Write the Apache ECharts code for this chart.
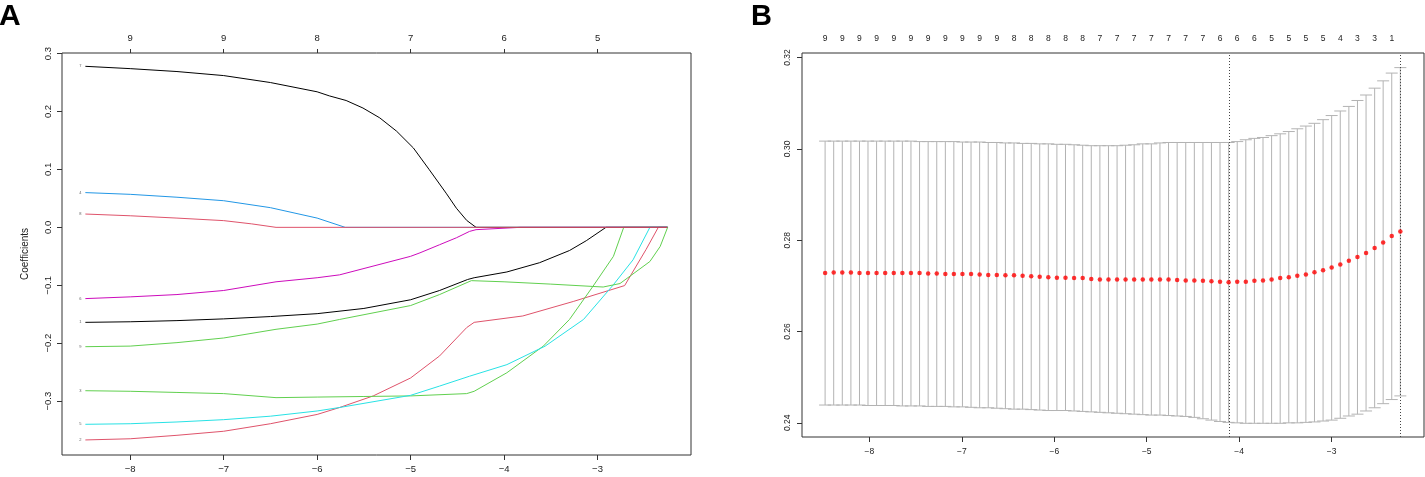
<!DOCTYPE html>
<html lang="en">
<head>
    <meta charset="UTF-8">
    <title>lasso_path_and_cv</title>
    <script src="https://cdn.jsdelivr.net/npm/echarts@6/dist/echarts.min.js"></script>
    <style>
        html, body { margin: 0; padding: 0; background: #fff; }
        #mainChart { width: 1425px; height: 477px; }
    </style>
</head>

<body>
    <div id="mainChart"></div>
    <script>
        // ---- panel A: coefficient paths, [log lambda, coefficient] ----
        const coefV1 = [[-8.48,-0.164],[-8.0,-0.163],[-7.5,-0.161],[-7.0,-0.158],[-6.5,-0.154],[-6.0,-0.149],[-5.5,-0.140],[-5.0,-0.125],[-4.69,-0.109],[-4.39,-0.090],[-4.32,-0.087],[-3.97,-0.077],[-3.62,-0.061],[-3.30,-0.040],[-3.12,-0.023],[-2.91,0],[-2.25,0]]
        const coefV2 = [[-8.48,-0.367],[-8.0,-0.365],[-7.5,-0.359],[-7.0,-0.352],[-6.5,-0.339],[-6.0,-0.323],[-5.76,-0.311],[-5.40,-0.291],[-5.0,-0.260],[-4.69,-0.222],[-4.40,-0.173],[-4.32,-0.164],[-3.80,-0.153],[-3.26,-0.128],[-2.71,-0.1005],[-2.48,-0.038],[-2.35,0],[-2.25,0]]
        const coefV3 = [[-8.48,-0.282],[-8.0,-0.283],[-7.5,-0.285],[-7.0,-0.287],[-6.44,-0.294],[-6.0,-0.293],[-5.5,-0.292],[-5.0,-0.291],[-4.40,-0.287],[-4.32,-0.283],[-3.97,-0.251],[-3.58,-0.205],[-3.30,-0.159],[-3.05,-0.102],[-2.83,-0.050],[-2.72,0],[-2.25,0]]
        const coefV4 = [[-8.48,0.060],[-8.0,0.057],[-7.5,0.052],[-7.0,0.046],[-6.5,0.034],[-6.0,0.016],[-5.70,0],[-2.25,0]]
        const coefV5 = [[-8.48,-0.340],[-8.0,-0.339],[-7.5,-0.336],[-7.0,-0.332],[-6.5,-0.326],[-6.0,-0.317],[-5.76,-0.311],[-5.0,-0.290],[-4.69,-0.274],[-4.37,-0.257],[-3.97,-0.237],[-3.56,-0.205],[-3.15,-0.159],[-2.83,-0.099],[-2.62,-0.056],[-2.44,0],[-2.25,0]]
        const coefV6 = [[-8.48,-0.123],[-8.0,-0.120],[-7.5,-0.116],[-7.0,-0.109],[-6.44,-0.094],[-6.0,-0.087],[-5.76,-0.082],[-5.0,-0.050],[-4.90,-0.044],[-4.69,-0.030],[-4.51,-0.018],[-4.37,-0.007],[-4.30,-0.004],[-3.83,0],[-2.25,0]]
        const coefV7 = [[-8.48,0.278],[-8.0,0.274],[-7.5,0.269],[-7.0,0.262],[-6.5,0.250],[-6.0,0.234],[-5.87,0.227],[-5.69,0.219],[-5.51,0.206],[-5.33,0.189],[-5.15,0.166],[-4.97,0.137],[-4.80,0.0995],[-4.62,0.059],[-4.51,0.033],[-4.40,0.012],[-4.30,0],[-2.25,0]]
        const coefV8 = [[-8.48,0.023],[-8.0,0.020],[-7.5,0.016],[-7.0,0.0116],[-6.7,0.006],[-6.44,0],[-2.25,0]]
        const coefV9 = [[-8.48,-0.206],[-8.0,-0.205],[-7.5,-0.199],[-7.0,-0.191],[-6.44,-0.176],[-6.0,-0.167],[-5.76,-0.159],[-5.0,-0.135],[-4.69,-0.116],[-4.35,-0.092],[-4.0,-0.094],[-3.5,-0.098],[-2.94,-0.103],[-2.76,-0.097],[-2.44,-0.059],[-2.33,-0.033],[-2.25,0]]

        const varNames = ['1', '2', '3', '4', '5', '6', '7', '8', '9']
        const varPaths = [coefV1, coefV2, coefV3, coefV4, coefV5, coefV6, coefV7, coefV8, coefV9]
        const varColors = ['#000000', '#DF536B', '#61D04F', '#2297E6', '#28E2E5', '#CD0BBC', '#000000', '#DF536B', '#61D04F']

        const pathTicks = [-8, -7, -6, -5, -4, -3]
        const pathDf = [9, 9, 8, 7, 6, 5]
        const coefTicks = [-0.3, -0.2, -0.1, 0, 0.1, 0.2, 0.3]

        // ---- panel B: cross-validation curve ----
        const cvLogLambda = [-8.480,-8.387,-8.294,-8.201,-8.108,-8.016,-7.923,-7.830,-7.737,-7.644,
            -7.551,-7.458,-7.365,-7.272,-7.179,-7.087,-6.994,-6.901,-6.808,-6.715,
            -6.622,-6.529,-6.436,-6.343,-6.250,-6.158,-6.065,-5.972,-5.879,-5.786,
            -5.693,-5.600,-5.507,-5.414,-5.321,-5.229,-5.136,-5.043,-4.950,-4.857,
            -4.764,-4.671,-4.578,-4.485,-4.392,-4.300,-4.207,-4.114,-4.021,-3.928,
            -3.835,-3.742,-3.649,-3.556,-3.463,-3.371,-3.278,-3.185,-3.092,-2.999,
            -2.906,-2.813,-2.720,-2.627,-2.534,-2.442,-2.349,-2.256]
        const cvMean = [0.2728,0.2729,0.2729,0.2729,0.2728,0.2728,0.2728,0.2728,0.2728,0.2728,
            0.2728,0.2728,0.2727,0.2727,0.2726,0.2726,0.2726,0.2726,0.2725,0.2724,
            0.2724,0.2723,0.2723,0.2722,0.2721,0.2720,0.2719,0.2718,0.2718,0.2717,
            0.2717,0.2715,0.2714,0.2714,0.2714,0.2714,0.2714,0.2714,0.2714,0.2714,
            0.2714,0.2713,0.2712,0.2712,0.2711,0.2710,0.2709,0.2708,0.2709,0.2709,
            0.2711,0.2712,0.2714,0.2717,0.2719,0.2722,0.2725,0.2730,0.2734,0.2740,
            0.2747,0.2755,0.2763,0.2772,0.2783,0.2795,0.2809,0.2819]
        const cvUpper = [0.3017,0.3017,0.3017,0.3017,0.3017,0.3017,0.3017,0.3017,0.3017,0.3017,
            0.3017,0.3016,0.3016,0.3016,0.3016,0.3016,0.3015,0.3015,0.3015,0.3014,
            0.3014,0.3013,0.3013,0.3012,0.3012,0.3011,0.3011,0.3010,0.3010,0.3009,
            0.3008,0.3007,0.3007,0.3007,0.3007,0.3008,0.3009,0.3011,0.3011,0.3013,
            0.3014,0.3014,0.3014,0.3014,0.3014,0.3014,0.3014,0.3014,0.3016,0.3020,
            0.3023,0.3025,0.3029,0.3033,0.3038,0.3044,0.3050,0.3056,0.3064,0.3073,
            0.3083,0.3093,0.3106,0.3118,0.3133,0.3149,0.3166,0.3178]
        const cvLower = [0.2439,0.2439,0.2439,0.2439,0.2439,0.2438,0.2438,0.2438,0.2438,0.2437,
            0.2437,0.2437,0.2436,0.2436,0.2436,0.2435,0.2435,0.2434,0.2433,0.2433,
            0.2432,0.2431,0.2430,0.2430,0.2429,0.2428,0.2427,0.2427,0.2427,0.2426,
            0.2425,0.2424,0.2423,0.2422,0.2421,0.2420,0.2419,0.2418,0.2417,0.2417,
            0.2416,0.2415,0.2414,0.2412,0.2409,0.2406,0.2403,0.2401,0.2400,0.2399,
            0.2399,0.2399,0.2399,0.2399,0.2400,0.2400,0.2401,0.2402,0.2404,0.2406,
            0.2410,0.2415,0.2419,0.2426,0.2433,0.2442,0.2451,0.2459]
        // non-zero counts shown on the top axis, every second lambda
        const nzTop = [9,9,9,9,9,9,9,9,9,9,9,8,8,8,8,8,7,7,7,7,7,7,7,6,6,6,5,5,5,5,4,3,3,1]
        const lambdaMinLog = -4.114
        const lambda1seLog = -2.256
        const cvTicksX = [-8, -7, -6, -5, -4, -3]
        const cvTicksY = [0.24, 0.26, 0.28, 0.30, 0.32]

        const FONT = 'Liberation Sans, Arial, Helvetica, sans-serif'
        const capHalf = 6

        function minus(s) {
            return String(s).replace('-', '\u2212')
        }
        function nearestIndex(arr, v) {
            let best = 0
            for (let i = 1; i < arr.length; i++) {
                if (Math.abs(arr[i] - v) < Math.abs(arr[best] - v)) best = i
            }
            return best
        }

        const topLabelX = nzTop.map((_, i) => cvLogLambda[2 * i])

        function axisOf(extra) {
            return Object.assign({
                type: 'value',
                axisLine: { show: false, onZero: false },
                splitLine: { show: false }
            }, extra)
        }
        function tickOf(values, len) {
            return { show: true, length: len, customValues: values, lineStyle: { color: '#333', width: 1 } }
        }
        function labelOf(values, fmt, size, margin, rotate) {
            return { customValues: values, formatter: fmt, rotate: rotate || 0, color: '#222', fontFamily: FONT, fontSize: size, margin: margin }
        }

        let pathSeries = varPaths.map((d, i) => ({
            type: 'line',
            name: 'V' + varNames[i],
            xAxisIndex: 0,
            yAxisIndex: 0,
            data: d,
            showSymbol: false,
            smooth: false,
            lineStyle: { color: varColors[i], width: 1 },
            itemStyle: { color: varColors[i] },
            z: 2 + i
        }))

        let varLabelSeries = {
            type: 'scatter',
            xAxisIndex: 0,
            yAxisIndex: 0,
            symbolSize: 0,
            data: varPaths.map((d, i) => [d[0][0], d[0][1], varNames[i]]),
            label: {
                show: true,
                position: 'left',
                distance: 4,
                formatter: p => p.data[2],
                fontSize: 4,
                color: '#333',
                fontFamily: FONT
            },
            z: 20
        }

        let barSeries = {
            type: 'custom',
            xAxisIndex: 2,
            yAxisIndex: 1,
            data: cvLogLambda.map((x, i) => [x, cvLower[i], cvUpper[i]]),
            encode: { x: 0, y: [1, 2] },
            renderItem: function (params, api) {
                const x = api.value(0)
                const lo = api.coord([x, api.value(1)])
                const up = api.coord([x, api.value(2)])
                const style = { stroke: '#b3b3b3', lineWidth: 1, fill: null }
                return {
                    type: 'group',
                    children: [
                        { type: 'line', shape: { x1: lo[0], y1: lo[1], x2: up[0], y2: up[1] }, style: style },
                        { type: 'line', shape: { x1: up[0] - capHalf, y1: up[1], x2: up[0] + capHalf, y2: up[1] }, style: style },
                        { type: 'line', shape: { x1: lo[0] - capHalf, y1: lo[1], x2: lo[0] + capHalf, y2: lo[1] }, style: style }
                    ]
                }
            },
            markLine: {
                silent: true,
                symbol: 'none',
                label: { show: false },
                lineStyle: { color: '#444', type: [1, 2], width: 1 },
                data: [{ xAxis: lambdaMinLog }, { xAxis: lambda1seLog }]
            },
            z: 2
        }

        let meanSeries = {
            type: 'scatter',
            xAxisIndex: 2,
            yAxisIndex: 1,
            data: cvLogLambda.map((x, i) => [x, cvMean[i]]),
            symbol: 'circle',
            symbolSize: 4.5,
            itemStyle: { color: '#ff0000' },
            z: 5
        }

        let chartsData = {
            animation: false,
            backgroundColor: '#ffffff',
            title: [
                { text: 'A', left: -1, top: 2, padding: 0, textStyle: { fontSize: 30, fontWeight: 'bold', color: '#000', fontFamily: FONT } },
                { text: 'B', left: 751, top: 2, padding: 0, textStyle: { fontSize: 29, fontWeight: 'bold', color: '#000', fontFamily: FONT } }
            ],
            grid: [
                { left: 62, top: 53, width: 629, height: 402, show: true, borderColor: '#333', borderWidth: 1, backgroundColor: 'transparent' },
                { left: 802, top: 53, width: 622, height: 384, show: true, borderColor: '#333', borderWidth: 1, backgroundColor: 'transparent' }
            ],
            xAxis: [
                axisOf({
                    gridIndex: 0, position: 'bottom', min: -8.73, max: -2.0,
                    axisTick: tickOf(pathTicks, 5),
                    axisLabel: labelOf(pathTicks, v => minus(v), 9.5, 9)
                }),
                axisOf({
                    gridIndex: 0, position: 'top', min: -8.73, max: -2.0,
                    axisTick: tickOf(pathTicks, 4),
                    axisLabel: labelOf(pathTicks, v => String(pathDf[nearestIndex(pathTicks, v)]), 9.5, 10)
                }),
                axisOf({
                    gridIndex: 1, position: 'bottom', min: -8.73, max: -2.0,
                    axisTick: tickOf(cvTicksX, 5),
                    axisLabel: labelOf(cvTicksX, v => minus(v), 8.5, 10)
                }),
                axisOf({
                    gridIndex: 1, position: 'top', min: -8.73, max: -2.0,
                    axisTick: { show: false },
                    axisLabel: labelOf(topLabelX, v => String(nzTop[nearestIndex(topLabelX, v)]), 8.5, 10)
                })
            ],
            yAxis: [
                axisOf({
                    gridIndex: 0, min: -0.393, max: 0.301,
                    name: 'Coefficients', nameLocation: 'middle', nameGap: 32, nameRotate: 90,
                    nameTextStyle: { color: '#222', fontFamily: FONT, fontSize: 10 },
                    axisTick: tickOf(coefTicks, 5),
                    axisLabel: labelOf(coefTicks, v => minus(v.toFixed(1)), 9.5, 9, 90)
                }),
                axisOf({
                    gridIndex: 1, min: 0.2369, max: 0.321,
                    axisTick: tickOf(cvTicksY, 5),
                    axisLabel: labelOf(cvTicksY, v => v.toFixed(2), 8.5, 10, 90)
                })
            ],
            series: pathSeries.concat([varLabelSeries, barSeries, meanSeries])
        }

        let charts = echarts.init(document.querySelector('#mainChart'))
        charts.setOption(chartsData, true)
        window.addEventListener('resize', function () {
            charts.resize()
        })
    </script>
</body>

</html>
